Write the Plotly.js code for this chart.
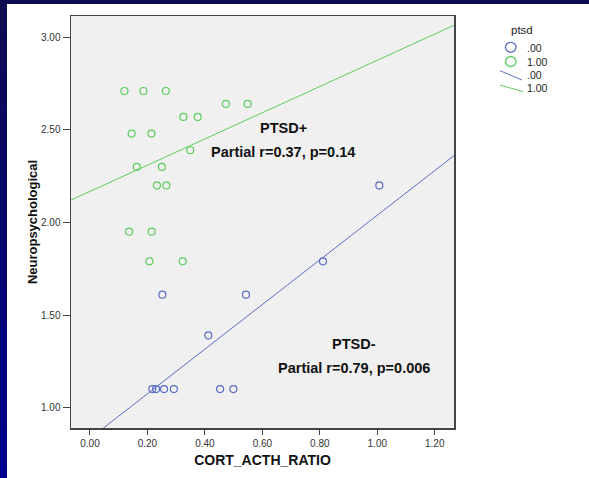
<!DOCTYPE html>
<html>
<head>
<meta charset="utf-8">
<script src="https://cdn.plot.ly/plotly-3.0.1.min.js"></script>
<style>
  html, body { margin:0; padding:0; width:589px; height:478px; overflow:hidden; }
  body { background: linear-gradient(to bottom, #0c0c50 0%, #06066e 50%, #00008e 100%); position:relative; }
  #panel { position:absolute; left:7px; top:4px; width:582px; height:474px; background:#ffffff; }
  #chart { position:absolute; left:0; top:0; width:589px; height:478px; }
</style>
</head>
<body>
<div id="panel"></div>
<div id="chart"></div>
<script>
// ptsd = 1.00 (green)
const ptsdPosX = [0.120, 0.186, 0.264, 0.473, 0.549, 0.325, 0.375, 0.145, 0.214, 0.349, 0.163, 0.250, 0.233, 0.266, 0.136, 0.215, 0.207, 0.323];
const ptsdPosY = [2.71, 2.71, 2.71, 2.64, 2.64, 2.57, 2.57, 2.48, 2.48, 2.39, 2.30, 2.30, 2.20, 2.20, 1.95, 1.95, 1.79, 1.79];
// ptsd = .00 (blue)
const ptsdNegX = [0.252, 0.543, 0.412, 0.217, 0.230, 0.258, 0.292, 0.453, 0.499, 0.811, 1.007];
const ptsdNegY = [1.61, 1.61, 1.39, 1.10, 1.10, 1.10, 1.10, 1.10, 1.10, 1.79, 2.20];
// fit lines
const fitPosX = [-0.066, 1.267];
const fitPosY = [2.121, 3.065];
const fitNegX = [0.046, 1.267];
const fitNegY = [0.889, 2.361];
// axis ticks
const xTicks = [0.0, 0.2, 0.4, 0.6, 0.8, 1.0, 1.2];
const xTickText = ["0.00", "0.20", "0.40", "0.60", "0.80", "1.00", "1.20"];
const yTicks = [1.0, 1.5, 2.0, 2.5, 3.0];
const yTickText = ["1.00", "1.50", "2.00", "2.50", "3.00"];
const legendTitle = "ptsd";
const legendLabels = [".00", "1.00", ".00", "1.00"];

const BLUE = "#5a6cc4";
const GREEN = "#5ccc5c";

const traces = [
  { x: fitNegX, y: fitNegY, mode: "lines", line: { color: BLUE, width: 1 }, hoverinfo: "skip", showlegend: false },
  { x: fitPosX, y: fitPosY, mode: "lines", line: { color: GREEN, width: 1 }, hoverinfo: "skip", showlegend: false },
  { x: ptsdNegX, y: ptsdNegY, mode: "markers", name: ".00",
    marker: { symbol: "circle-open", size: 7, color: BLUE, line: { width: 1.2, color: BLUE } }, showlegend: false },
  { x: ptsdPosX, y: ptsdPosY, mode: "markers", name: "1.00",
    marker: { symbol: "circle-open", size: 7, color: GREEN, line: { width: 1.2, color: GREEN } }, showlegend: false }
];

// paper coordinate helpers (plot area: l=71, t=16, w=383, h=412)
const PX = px => (px - 71) / 383;
const PY = py => (428 - py) / 412;

const legFont = { family: "Liberation Sans, Arial, sans-serif", size: 10.5, color: "#222" };
const annFont = { family: "Liberation Sans, Arial, sans-serif", size: 14.5, color: "#111" };

function legText(txt, px, py, size) {
  return { x: PX(px), y: PY(py), xref: "paper", yref: "paper", xanchor: "left", yanchor: "middle",
           text: txt, showarrow: false, font: size ? Object.assign({}, legFont, { size: size }) : legFont };
}

const layout = {
  width: 589, height: 478,
  margin: { l: 71, r: 135, t: 16, b: 50 },
  paper_bgcolor: "rgba(0,0,0,0)",
  plot_bgcolor: "#f0f0f0",
  showlegend: false,
  font: { family: "Liberation Sans, Arial, sans-serif", color: "#333" },
  xaxis: {
    range: [-0.066, 1.267],
    tickvals: xTicks, ticktext: xTickText,
    ticks: "outside", ticklen: 5, tickwidth: 1, tickcolor: "#444",
    tickfont: { size: 10, color: "#333" },
    showgrid: false, zeroline: false,
    showline: true, linecolor: "#444", linewidth: 1.5, mirror: true,
    title: { text: "<b>CORT_ACTH_RATIO</b>", font: { size: 14, color: "#111" }, standoff: 7 }
  },
  yaxis: {
    range: [0.890, 3.115],
    tickvals: yTicks, ticktext: yTickText,
    ticks: "outside", ticklen: 7, tickwidth: 1, tickcolor: "#444",
    tickfont: { size: 10, color: "#333" },
    showgrid: false, zeroline: false,
    showline: true, linecolor: "#444", linewidth: 1.5, mirror: true,
    title: { text: "<b>Neuropsychological</b>", font: { size: 13, color: "#111" }, standoff: 0 }
  },
  annotations: [
    { x: 0.672, y: 2.51, xref: "x", yref: "y", xanchor: "center", yanchor: "middle", text: "<b>PTSD+</b>", showarrow: false, font: annFont },
    { x: 0.672, y: 2.38, xref: "x", yref: "y", xanchor: "center", yanchor: "middle", text: "<b>Partial r=0.37, p=0.14</b>", showarrow: false, font: annFont },
    { x: 0.918, y: 1.345, xref: "x", yref: "y", xanchor: "center", yanchor: "middle", text: "<b>PTSD-</b>", showarrow: false, font: annFont },
    { x: 0.918, y: 1.215, xref: "x", yref: "y", xanchor: "center", yanchor: "middle", text: "<b>Partial r=0.79, p=0.006</b>", showarrow: false, font: annFont },
    { x: PX(521.5), y: PY(30), xref: "paper", yref: "paper", xanchor: "center", yanchor: "middle", text: legendTitle, showarrow: false,
      font: { family: "Liberation Sans, Arial, sans-serif", size: 11.5, color: "#222" } },
    legText(legendLabels[0], 525, 47.5),
    legText(legendLabels[1], 525, 61.5),
    legText(legendLabels[2], 525, 74.5),
    legText(legendLabels[3], 525, 88.5)
  ],
  shapes: [
    { type: "circle", xref: "paper", yref: "paper", x0: PX(505.5), x1: PX(516), y0: PY(52.3), y1: PY(42.3), line: { color: BLUE, width: 1.3 } },
    { type: "circle", xref: "paper", yref: "paper", x0: PX(505.5), x1: PX(516), y0: PY(66.5), y1: PY(56.5), line: { color: GREEN, width: 1.3 } },
    { type: "line", xref: "paper", yref: "paper", x0: PX(500), y0: PY(70.7), x1: PX(522), y1: PY(80), line: { color: BLUE, width: 1 } },
    { type: "line", xref: "paper", yref: "paper", x0: PX(500), y0: PY(85), x1: PX(523), y1: PY(91.7), line: { color: GREEN, width: 1 } }
  ]
};

Plotly.newPlot("chart", traces, layout, { displayModeBar: false, staticPlot: true });
</script>
</body>
</html>
